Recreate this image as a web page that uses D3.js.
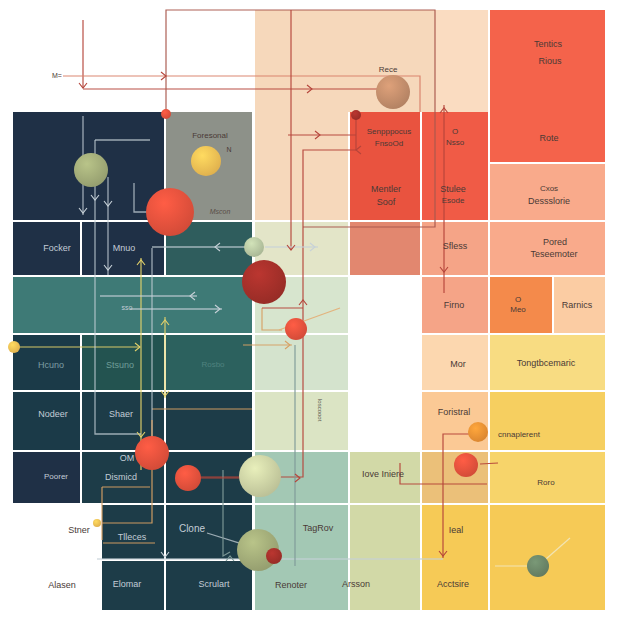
<!DOCTYPE html>
<html><head><meta charset="utf-8">
<script src="https://cdn.jsdelivr.net/npm/d3@7"></script>
<style>html,body{margin:0;padding:0;background:#fff}svg{display:block}</style>
</head><body>
<script>
// ---------- DATA (layout units) ----------
const cellNames = ["top","topB","peachL","navyTop","grayTop","redM","redN","redTop","salTop",
 "r1a","r1b","r1c","r1sage","r1sd","r1sb","r1sa",
 "r2teal","r2sage","r2sb","r2or","r2pc",
 "r3a","r3b","r3c","r3sage","r3pd","r3yl",
 "r4a","r4b","r4c","r4sage","r4pe","r4y",
 "r5a","r5b","r5c","r5mint","r5olive","r5tan","r5y",
 "r6b","r6c","r6mint","r6olive","r6y","r6y2",
 "r7b","r7c"];
const cellX0 = [255,435,255,13,166,350,422,490,490, 13,82,166,255,350,422,490, 13,255,422,490,554, 13,82,166,255,422,490, 13,82,166,255,422,490, 13,82,166,255,350,422,490, 102,166,255,350,422,490, 102,166];
const cellX1 = [435,488,348,164,252,420,488,605,605, 80,164,252,348,420,488,605, 252,348,488,552,605, 80,164,252,348,488,605, 80,164,252,348,488,605, 80,164,252,348,420,488,605, 164,252,348,420,488,605, 164,252];
const cellY0 = [10,10,112,112,112,112,112,10,164, 222,222,222,222,222,222,222, 277,277,277,277,277, 335,335,335,335,335,335, 392,392,392,392,392,392, 452,452,452,452,452,452,452, 505,505,505,505,505,505, 561,561];
const cellY1 = [112,112,220,220,220,220,220,162,220, 275,275,275,275,275,275,275, 333,333,333,333,333, 390,390,390,390,390,390, 450,450,450,450,450,450, 503,503,503,503,503,503,503, 559,559,610,610,610,610, 610,610];
const cellTone = ["peachA","peachB","peachA","navy","gray","redD","red","redT","salmonA",
 "navy","navy","tealD","sage","salmonD","salmonB","salmonA",
 "teal","sageB","salmonB","orange","peachC",
 "navyT","tealM","tealL","sageC","peachD","yellowL",
 "navyT","navyS","navyS","sageD","peachE","yellowM",
 "navy","navyS","navyS","mint","olive","tan","yellowN",
 "navyS","navyS","mint","olive","yellow","yellow",
 "navyS","navyS"];

const labelText = ["M=","Rece","Foresonal","N","Mscon","Tentics","Rious","Senpppocus","FnsoOd","O","Nsso","Rote",
 "Mentler","Soof","Stulee","Esode","Cxos","Dessslorie","Focker","Mnuo","sso","Sfless","Pored","Teseemoter",
 "Hcuno","Stsuno","Rosbo","Firno","O","Meo","Rarnics","Mor","Tongtbcemaric","Nodeer","Shaer","Foristral",
 "OM","Poorer","Dismicd","cnnaplerent","Iove Iniere","Roro","Stner","Tlleces","Clone","TagRov","Ieal",
 "Alasen","Elomar","Scrulart","Renoter","Arsson","Acctsire"];
const labelX = [57,388,210,229,220,548,550,389,389,455,455,549, 386,386,453,453,549,549,57,124,127,455,555,554,
 51,120,213,454,518,518,577,458,546,53,121,454, 127,56,121,519,383,546,79,132,192,318,456, 62,127,214,291,356,453];
const labelY = [76,69,135,150,212,44,61,131,143,131,142,138, 189,202,189,200,188,201,248,248,308,246,242,254,
 365,365,364,305,299,309,305,364,363,414,414,412, 458,476,477,434,474,482,530,537,528,528,530, 585,584,584,585,584,584];
const labelTone = ["dk","dk","dk","dk","dki","dk","dk","dk","dk","dk","dk","dk",
 "dk","dk","dk","dk","dk","dk","lt","lt","lt","dk","dk","dk",
 "mu","mu2","mu3","dk","dk","dk","dk","dk","dk","lt","lt","dk",
 "lt","lt","lt","dk","dk","dk","dk","lt","lt","dk","dk","dk","lt","lt","dk","dk","dk"];
const labelSize = [7,8,8,7,7,9,9,8,8,8,8,9, 9,9,9,8,8,9,9,9,7,9,9,9, 9,9,8,9,8,8,9,9,9,9,9,9, 9,8,9,8,9,8,9,9,10,9,9, 9,9,9,9,9,9];

const bubbleX = [91,206,170,393,166,356,254,264,296,14,152,188,260,97,258,274,478,466,538];
const bubbleY = [170,161,212,92,114,115,247,282,329,347,453,478,476,523,550,556,432,465,566];
const bubbleVal = [17,15,24,17,5,5,10,22,11,6,17,13,21,4,21,8,10,12,11];
const bubbleTone = ["green","yellow","red","clay","red","maroon","pale","maroon","red","yellow","red","red","paleL","yellow","green","maroon","orange","red","moss"];

// link paths (x,y pairs in layout units) and their tone
const linkPts = [
 [83,20, 83,88],
 [83,89, 378,89],
 [63,76, 420,76, 420,112],
 [166,114, 166,10, 435,10, 435,227, 303,227],
 [291,10, 291,250],
 [288,135, 356,135],
 [356,115, 356,150, 303,150, 303,477, 200,477],
 [444,105, 444,293],
 [262,308, 262,330, 282,330],
 [262,308, 303,308],
 [470,434, 443,434, 443,558],
 [400,463, 400,484, 487,484],
 [480,464, 498,463],
 [14,347, 140,347],
 [243,345, 292,345],
 [141,258, 141,470],
 [165,317, 165,398],
 [152,409, 252,409],
 [95,140, 95,434, 141,434],
 [95,140, 150,140],
 [83,116, 83,215],
 [108,177, 108,275],
 [134,183, 134,212, 150,212],
 [152,248, 152,460],
 [152,247, 245,247],
 [265,247, 318,247],
 [100,296, 197,296],
 [130,309, 222,309],
 [97,559, 443,559],
 [152,420, 152,523, 102,523],
 [102,487, 102,540],
 [102,487, 150,487],
 [207,533, 268,552],
 [223,470, 223,556, 230,552],
 [295,345, 295,566],
 [195,478, 280,478],
 [538,566, 570,538],
 [495,566, 530,566],
 [279,330, 340,308],
 [103,543, 155,543]
];
const linkTone = ["red","red","redL","redB","red","red","red","red","tan","red","red","red","red",
 "yellow","tan","yellow","yellow","tan","white","white","white","white","white","white","white","white","white","white",
 "white","tan","tan","tan","white","grayG","grayG","red","pale","pale","tanL","tan"];

// arrow heads: x, y, direction (deg), tone
const arrowX = [83,312,166,291,320,356,444,444,443,140,290,141,141,165,165,83,95,108,108,150,215,315,190,220,165,303,300,230];
const arrowY = [88,89,76,250,135,150,108,272,556,347,345,260,437,320,396,213,200,206,270,458,247,247,296,309,557,300,478,556];
const arrowDir = [90,0,0,90,0,180,-90,90,90,0,0,-90,90,-90,90,90,90,90,90,90,180,0,180,0,90,-90,0,-90];
const arrowTone = ["red","red","red","red","red","red","red","red","red","yellow","tan","yellow","yellow","yellow","yellow","white","white","white","white","white","white","white","white","white","white","red","red","grayG"];

// ---------- DRAW ----------
const W = 626, H = 626;
const x = d3.scaleLinear().domain([0, 626]).range([0, W]);
const y = d3.scaleLinear().domain([0, 626]).range([0, H]);
const r = d3.scaleLinear().domain([0, 24]).range([0, 24]);

const cellColor = d3.scaleOrdinal()
 .domain(["peachA","peachB","navy","gray","redD","red","redT","salmonA","tealD","sage","salmonD","salmonB","teal","sageB","orange","peachC","navyT","tealM","tealL","sageC","peachD","yellowL","navyS","sageD","peachE","yellowM","mint","olive","tan","yellowN","yellow"])
 .range(["#f6d8bb","#fadcc1","#1f3046","#8d9189","#e9533f","#f05b46","#f4634b","#f9aa8b","#2f5d5d","#e3e5c8","#e2876f","#f5a487","#3e7a76","#d7e5ce","#f48a4b","#fbcca3","#1b3a48","#235350","#2c615e","#d4e3cd","#fcd7af","#f8dc82","#1d3c48","#dbe4c4","#fbc995","#f6cf60","#a3c8b4","#d2d9a7","#ebc079","#f7d46a","#f6ca56"]);
const textColor = d3.scaleOrdinal().domain(["dk","dki","lt","mu","mu2","mu3"]).range(["#4a3a36","#5a4e48","#c3ccd6","#7d9ea4","#6f9e98","#4f827e"]);
const lineColor = d3.scaleOrdinal().domain(["red","redL","redB","tan","tanL","yellow","white","grayG","pale"]).range(["#b5443a","#d9826a","#a9574c","#d7a064","#e4b078","#e2d16a","#c7d1d8","#7e9a98","#f1e6b8"]);
const bubbleColor = d3.scaleOrdinal().domain(["green","yellow","red","clay","maroon","pale","paleL","orange","moss"])
 .range(["#a3ad79","#f5c155","#e7523d","#c48e6c","#a5302a","#b9c8a3","#cdd3a5","#ef9335","#6c8769"]);

const svg = d3.select("body").append("svg").attr("width", W).attr("height", H)
 .style("font-family", "'Liberation Sans', Arial, sans-serif");
svg.append("rect").attr("width", W).attr("height", H).attr("fill", "#ffffff");

const defs = svg.append("defs");
bubbleColor.domain().forEach(k => {
  const c = d3.color(bubbleColor(k));
  const g = defs.append("radialGradient").attr("id", "g-" + k).attr("cx", "38%").attr("cy", "32%").attr("r", "70%");
  g.append("stop").attr("offset", "0%").attr("stop-color", c.brighter(0.35));
  g.append("stop").attr("offset", "100%").attr("stop-color", c.darker(0.25));
});

// cells
svg.append("g").selectAll("rect").data(d3.range(cellNames.length)).join("rect")
 .attr("x", i => x(cellX0[i])).attr("y", i => y(cellY0[i]))
 .attr("width", i => x(cellX1[i]) - x(cellX0[i])).attr("height", i => y(cellY1[i]) - y(cellY0[i]))
 .attr("fill", i => cellColor(cellTone[i]));

// links
const line = d3.line().x(p => x(p[0])).y(p => y(p[1]));
svg.append("g").attr("fill", "none").selectAll("path").data(d3.range(linkPts.length)).join("path")
 .attr("d", i => { const p = linkPts[i], pts = []; for (let k = 0; k < p.length; k += 2) pts.push([p[k], p[k+1]]); return line(pts); })
 .attr("stroke", i => lineColor(linkTone[i]))
 .attr("stroke-width", i => linkTone[i] === "white" ? 1.3 : 1.2)
 .attr("stroke-opacity", i => linkTone[i] === "white" ? 0.75 : 0.95);

// arrows
svg.append("g").attr("fill", "none").selectAll("path").data(d3.range(arrowX.length)).join("path")
 .attr("transform", i => `translate(${x(arrowX[i])},${y(arrowY[i])}) rotate(${arrowDir[i]})`)
 .attr("d", "M-5,-4L0,0L-5,4")
 .attr("stroke", i => lineColor(arrowTone[i])).attr("stroke-width", 1.1);

// bubbles
svg.append("g").selectAll("circle").data(d3.range(bubbleX.length)).join("circle")
 .attr("cx", i => x(bubbleX[i])).attr("cy", i => y(bubbleY[i])).attr("r", i => r(bubbleVal[i]))
 .attr("fill", i => `url(#g-${bubbleTone[i]})`);

// labels
svg.append("g").attr("text-anchor", "middle").selectAll("text").data(d3.range(labelText.length)).join("text")
 .attr("x", i => x(labelX[i])).attr("y", i => y(labelY[i])).attr("dy", "0.35em")
 .attr("font-size", i => labelSize[i]).attr("fill", i => textColor(labelTone[i]))
 .attr("font-style", i => labelTone[i] === "dki" ? "italic" : null)
 .text(i => labelText[i]);

svg.append("text").attr("transform", `translate(${x(318)},${y(410)}) rotate(90)`)
 .attr("text-anchor", "middle").attr("font-size", 6).attr("fill", "#5a5a50").text("Ioscooot");
</script>
</body></html>
